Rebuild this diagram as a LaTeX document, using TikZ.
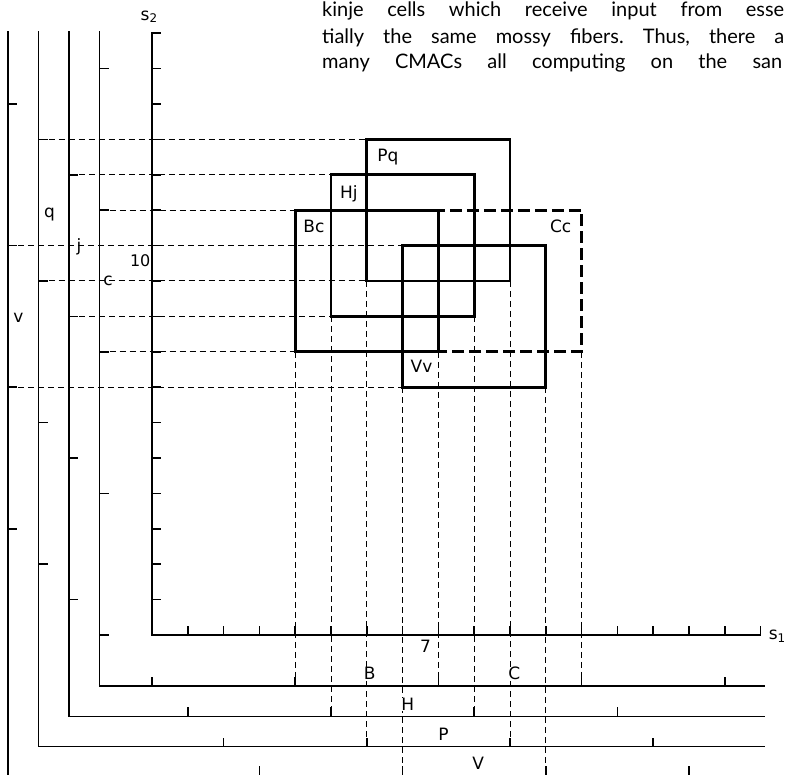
\documentclass[tikz,border=0pt]{standalone}
\usepackage{fontspec}
\setmainfont{DejaVu Sans}
\newfontfamily\bodyfont{Lato}
\frenchspacing
\begin{document}
\begin{tikzpicture}[x=35.8pt,y=35.4pt,
  axisline/.style={line width=1.5pt},
  guide/.style={line width=1pt, dash pattern=on 6pt off 4pt},
  cmacbox/.style={line width=2.7pt},
  ccbox/.style={line width=2.7pt, dash pattern=on 12pt off 5pt},
  lab/.style={font=\fontsize{17}{19}\selectfont, inner sep=0.5pt, anchor=base west},
  wlab/.style={lab, fill=white},
  para/.style={font=\bodyfont\fontsize{20}{22}\selectfont, inner sep=0pt, anchor=base west},
]
\useasboundingbox (-152pt,-139pt) rectangle (635pt,635pt);
\def\xv{-4.022}\def\xq{-3.170}\def\xj{-2.318}\def\xc{-1.466}
\def\yc{-1.441}\def\yj{-2.302}\def\yq{-3.150}\def\yv{-4.0}
\def\ytop{17.05}\def\xend{17.12}

% paragraph fragment
\node[para] (t1) at (4.749,17.458) {\makebox[462pt][s]{kinje cells which receive input from esse}};
\node[para] (t2) at (4.749,16.723) {\makebox[462pt][s]{tially the same mossy fibers. Thus, there a}};
\node[para] (t3) at (4.749,15.989) {\makebox[460pt][s]{many CMACs all computing on the san}};

% dashed guide lines (horizontal)
\draw[guide] (\xq,14) -- (6,14);
\draw[guide] (\xj,13) -- (5,13);
\draw[guide] (\xc,12) -- (4,12);
\draw[guide] (\xv,11) -- (7,11);
\draw[guide] (\xq,10) -- (6,10);
\draw[guide] (\xj,9) -- (5,9);
\draw[guide] (\xc,8) -- (4,8);
\draw[guide] (\xv,7) -- (7,7);
% dashed guide lines (vertical)
\draw[guide] (4,8) -- (4,\yc);
\draw[guide] (5,9) -- (5,\yj);
\draw[guide] (6,10) -- (6,\yq);
\draw[guide] (7,7) -- (7,\yv);
\draw[guide] (8,8) -- (8,\yc);
\draw[guide] (9,9) -- (9,\yj);
\draw[guide] (10,10) -- (10,\yq);
\draw[guide] (11,7) -- (11,\yv);
\draw[guide] (12,8) -- (12,\yc);

% main axes s1, s2
\draw[axisline] ([xshift=9pt]0,17) -- (0,17) -- (0,0) -- (17,0) -- ([yshift=9pt]17,0);
\foreach \k in {1,...,16} {
  \draw[axisline] (0,\k) -- ++(9pt,0);
  \draw[axisline] (\k,0) -- ++(0,9pt);
}
% coarse axes
\draw[axisline] (\xc,\ytop) -- (\xc,\yc) -- (\xend,\yc);
\draw[axisline] (\xj,\ytop) -- (\xj,\yj) -- (\xend,\yj);
\draw[axisline] (\xq,\ytop) -- (\xq,\yq) -- (\xend,\yq);
\draw[axisline] (\xv,\ytop) -- (\xv,\yv);
\foreach \k in {0,4,8,12,16} {
  \draw[axisline] (\xc,\k) -- ++(9pt,0);
  \draw[axisline] (\k,\yc) -- ++(0,9pt);
}
\foreach \k in {1,5,9,13} {
  \draw[axisline] (\xj,\k) -- ++(9pt,0);
  \draw[axisline] (\k,\yj) -- ++(0,9pt);
}
\foreach \k in {2,6,10,14} {
  \draw[axisline] (\xq,\k) -- ++(9pt,0);
  \draw[axisline] (\k,\yq) -- ++(0,9pt);
}
\foreach \k in {3,7,11,15} {
  \draw[axisline] (\xv,\k) -- ++(9pt,0);
  \draw[axisline] (\k,\yv) -- ++(0,11pt);
}

% receptive-field squares
\draw[ccbox] (8,8) rectangle (12,12);
\draw[cmacbox] (4,8) rectangle (8,12);
\draw[cmacbox] (5,9) rectangle (9,13);
\draw[cmacbox] (6,10) rectangle (10,14);
\draw[cmacbox] (7,7) rectangle (11,11);

% labels
\node[lab] (lPq) at (6.276,13.37) {Pq};
\node[lab] (lHj) at (5.232,12.34) {Hj};
\node[lab] (lBc) at (4.209,11.365) {Bc};
\node[lab] (lCc) at (11.098,11.365) {Cc};
\node[lab] (lVv) at (7.207,7.41) {Vv};
\node[lab] (lq) at (-3.036,11.80) {q};
\node[lab] (lj) at (-2.123,10.82) {j};
\node[lab] (lc) at (-1.377,9.86) {c};
\node[lab] (lv) at (-3.891,8.83) {v};
\node[lab, font=\fontsize{16}{18}\selectfont] (l10) at (-0.634,10.40) {10};
\node[lab] (ls2) at (-0.335,17.37) {s\textsubscript{2}};
\node[lab] (ls1) at (17.21,-0.14) {s\textsubscript{1}};
\node[lab] (l7) at (7.467,-0.489) {7};
\node[wlab] (lB) at (5.90,-1.271) {B};
\node[wlab] (lC) at (9.936,-1.271) {C};
\node[wlab] (lH) at (6.946,-2.135) {H};
\node[wlab] (lP) at (7.98,-2.986) {P};
\node[wlab] (lV) at (8.93,-3.81) {V};
\end{tikzpicture}
\end{document}
